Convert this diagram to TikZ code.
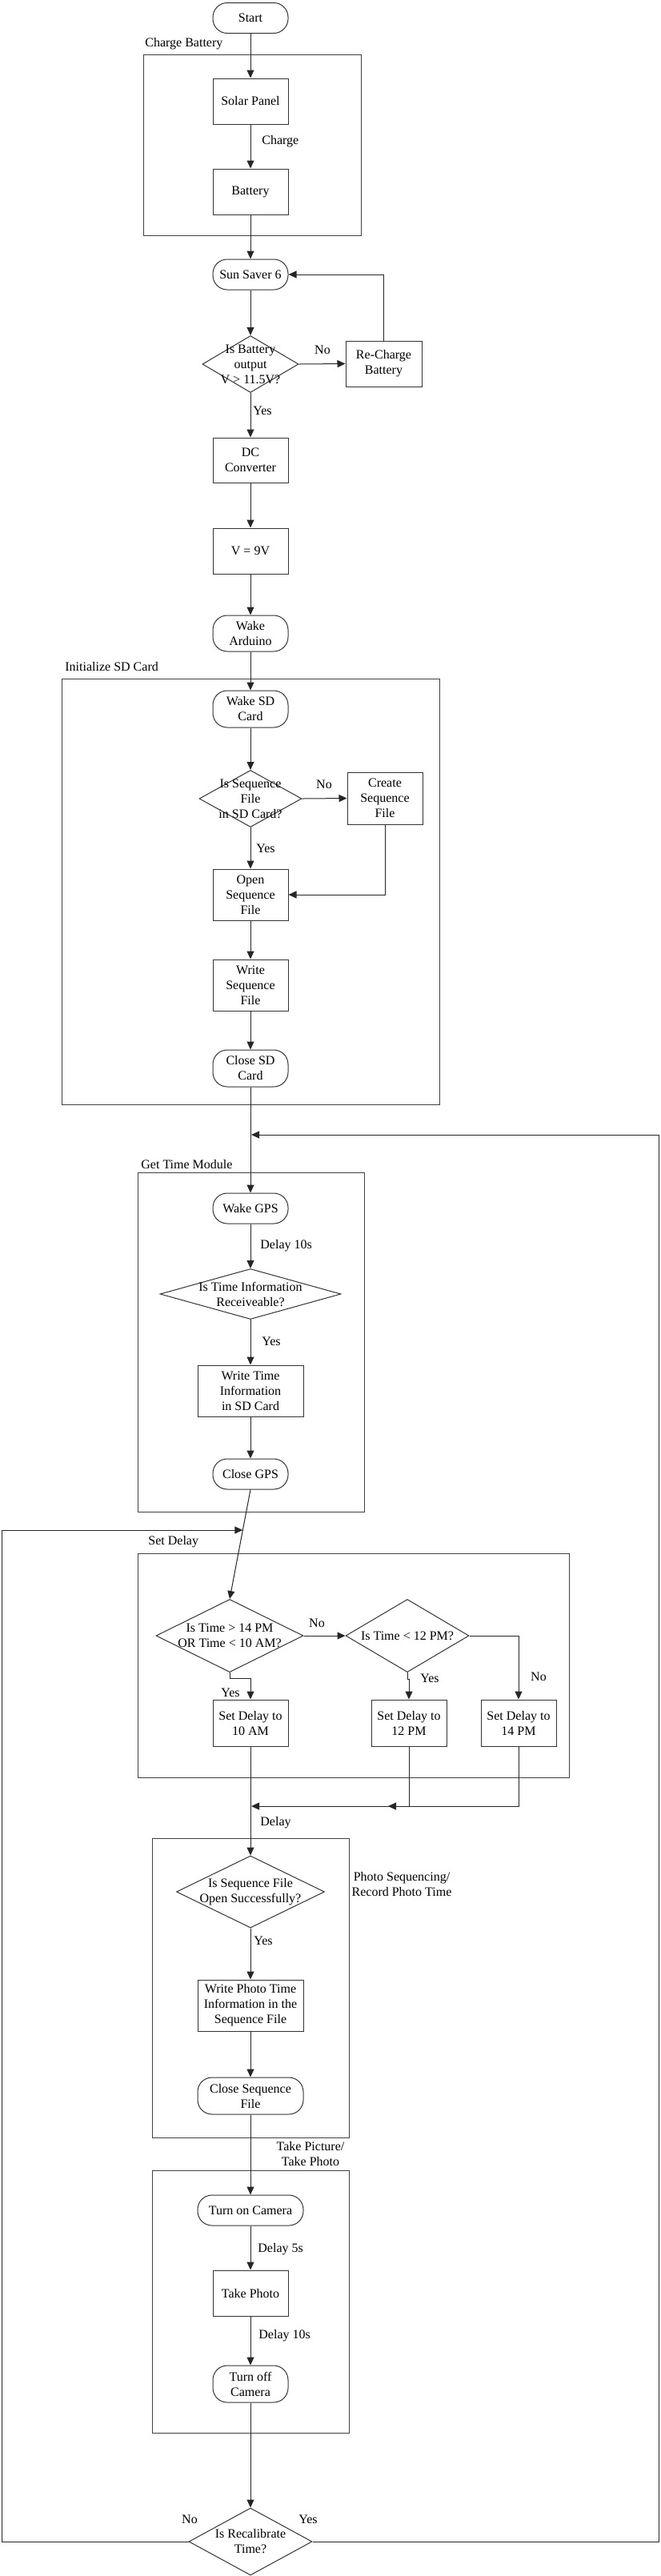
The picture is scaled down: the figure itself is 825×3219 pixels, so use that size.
\documentclass[tikz,border=0pt]{standalone}
\usepackage{fontspec}
\setmainfont{Liberation Serif}
\usetikzlibrary{shapes.geometric,arrows.meta}
\newcommand\figfont{\fontsize{8pt}{9.5pt}\selectfont}
\begin{document}
\begin{tikzpicture}[x=0.5pt,y=-0.5pt,
  every node/.style={font=\figfont},
  box/.style={draw=black!80, line width=0.5pt, align=center, inner sep=1pt, minimum width=47pt, minimum height=28.5pt},
  term/.style={box, rounded corners=9pt, minimum height=19pt},
  dia/.style={draw=black!80, line width=0.5pt, diamond, inner sep=0pt},
  dtxt/.style={align=center, inner sep=0pt},
  lbl/.style={inner sep=0pt, align=center},
  arr/.style={draw=black!85, line width=0.5pt, -{Triangle[length=5pt,width=4.5pt]}},
  ln/.style={draw=black!85, line width=0.5pt},
  frame/.style={draw=black!75, line width=0.5pt}]
\useasboundingbox (0,0) rectangle (825,3219);

% ---------- frames ----------
\draw[frame] (179,68) rectangle (451,294);
\node[lbl, anchor=west] (lcb) at (181,55) {Charge Battery};
\draw[frame] (77,848) rectangle (549,1380);
\node[lbl, anchor=west] (lsd) at (81,833) {Initialize SD Card};
\draw[frame] (172,1465) rectangle (455,1889);
\node[lbl, anchor=west] (lgt) at (176,1455) {Get Time Module};
\draw[frame] (172,1941) rectangle (711,2221);
\node[lbl, anchor=west] (lsdl) at (185,1927) {Set Delay};
\draw[frame] (190,2297) rectangle (436,2671);
\node[lbl] (lps) at (502,2354) {Photo Sequencing/\\Record Photo Time};
\draw[frame] (190,2712) rectangle (436,3040);
\node[lbl] (ltp) at (388,2691) {Take Picture/\\Take Photo};

% ---------- nodes ----------
\node[term] (start) at (313,22.5) {Start};
\node[box] (solar) at (313,126.5) {Solar Panel};
\node[box] (batt) at (313,239.5) {Battery};
\node[term] (ss) at (313,343) {Sun Saver 6};
\node[dia, minimum width=60pt, minimum height=35.5pt] (dbat) at (313,455) {};
\node[dtxt] (dbatT) at (dbat) {Is Battery\\output\\V > 11.5V?};
\node[box, minimum width=47.5pt] (rc) at (479.5,454.5) {Re-Charge\\Battery};
\node[box, minimum height=28pt] (dc) at (313,575) {DC\\Converter};
\node[box] (v9) at (313,688.5) {V = 9V};
\node[term, minimum height=22.5pt] (wa) at (313,791.5) {Wake\\Arduino};
\node[term, minimum height=23pt] (wsd) at (313,886) {Wake SD\\Card};
\node[dia, minimum width=64pt, minimum height=35.5pt] (dseq) at (313,998) {};
\node[dtxt] (dseqT) at (dseq) {Is Sequence\\File\\in SD Card?};
\node[box, minimum height=32.5pt] (cr) at (481,997.5) {Create\\Sequence\\File};
\node[box, minimum height=32pt] (op) at (313,1118) {Open\\Sequence\\File};
\node[box, minimum height=32pt] (ws) at (313,1231) {Write\\Sequence\\File};
\node[term, minimum height=23pt] (csd) at (313,1335) {Close SD\\Card};
\node[term] (wg) at (313,1510) {Wake GPS};
\node[dia, minimum width=113pt, minimum height=31.5pt] (dt) at (313,1617) {};
\node[dtxt] (dtT) at (dt) {Is Time Information\\Receiveable?};
\node[box, minimum width=66pt, minimum height=32pt] (wt) at (313,1738) {Write Time\\Information\\in SD Card};
\node[term] (cg) at (313,1842) {Close GPS};
\node[dia, minimum width=92pt, minimum height=45.5pt] (d1) at (287,2044) {};
\node[dtxt] (d1T) at (d1) {Is Time > 14 PM\\OR Time < 10 AM?};
\node[dia, minimum width=77pt, minimum height=45.5pt] (d2) at (509,2044) {};
\node[dtxt] (d2T) at (d2) {Is Time < 12 PM?};
\node[box, minimum height=29pt] (s10) at (313,2153) {Set Delay to\\10 AM};
\node[box, minimum height=29pt] (s12) at (511,2153) {Set Delay to\\12 PM};
\node[box, minimum height=29pt] (s14) at (648,2153) {Set Delay to\\14 PM};
\node[dia, minimum width=92.5pt, minimum height=45pt] (dop) at (313,2364) {};
\node[dtxt] (dopT) at (dop) {Is Sequence File\\Open Successfully?};
\node[box, minimum width=66pt, minimum height=32pt] (wp) at (313,2506) {Write Photo Time\\Information in the\\Sequence File};
\node[term, minimum width=66pt, minimum height=23pt] (csf) at (313,2619) {Close Sequence\\File};
\node[term, minimum width=66pt] (ton) at (313,2762) {Turn on Camera};
\node[box] (tp) at (313,2865.5) {Take Photo};
\node[term, minimum height=23pt] (toff) at (313,2979) {Turn off\\Camera};
\node[dia, minimum width=77pt, minimum height=42pt] (drc) at (313,3176) {};
\node[dtxt] (drcT) at (drc) {Is Recalibrate\\Time?};

% ---------- coordinates ----------
\coordinate (m14) at (485,2257);
\coordinate (m12) at (314,2257);
\coordinate (lpL) at (303.3,1912);
\coordinate (lpR) at (314,1418);

% ---------- connectors ----------
\draw[arr] (start) -- (solar);
\draw[arr] (solar) -- (batt);
\draw[arr] (batt) -- (ss);
\draw[arr] (ss) -- (dbat.north);
\draw[arr] (dbat.east) -- (rc.west);
\draw[arr] (rc.north) |- (ss.east);
\draw[arr] (dbat.south) -- (dc.north);
\draw[arr] (dc) -- (v9);
\draw[arr] (v9) -- (wa);
\draw[arr] (wa) -- (wsd);
\draw[arr] (wsd) -- (dseq.north);
\draw[arr] (dseq.east) -- (cr.west);
\draw[arr] (dseq.south) -- (op.north);
\draw[arr] (cr.south) |- (op.east);
\draw[arr] (op) -- (ws);
\draw[arr] (ws) -- (csd);
\draw[arr] (csd) -- (wg);
\draw[arr] (wg) -- (dt.north);
\draw[arr] (dt.south) -- (wt.north);
\draw[arr] (wt) -- (cg);
\draw[arr] (cg.south) -- (d1.north);
\draw[arr] (d1.east) -- (d2.west);
\draw[arr] (d1.south) -- ++(0,7) -| (s10.north);
\draw[arr] (d2.south) -- ++(0,8) -| (s12.north);
\draw[arr] (d2.east) -| (s14.north);
\draw[arr] (s14.south) |- (m14);
\draw[arr] (s12.south) |- (m12);
\draw[arr] (s10.south) -- (dop.north);
\draw[arr] (dop.south) -- (wp.north);
\draw[arr] (wp) -- (csf);
\draw[arr] (csf) -- (ton);
\draw[arr] (ton) -- (tp);
\draw[arr] (tp) -- (toff);
\draw[arr] (toff) -- (drc.north);
\draw[arr] (drc.west) -- (2,3176) -- (2,1912) -- (lpL);
\draw[arr] (drc.east) -- (823,3176) -- (823,1418) -- (lpR);

% ---------- connector labels ----------
\node[lbl, anchor=west] (tCharge) at (327,177) {Charge};
\node[lbl] (tNo1) at (403,437) {No};
\node[lbl, anchor=west] (tYes1) at (316,513) {Yes};
\node[lbl] (tNo2) at (405,980) {No};
\node[lbl, anchor=west] (tYes2) at (320,1060) {Yes};
\node[lbl, anchor=west] (tD10a) at (325,1557) {Delay 10s};
\node[lbl, anchor=west] (tYes3) at (327,1676) {Yes};
\node[lbl] (tNo3) at (396,2028) {No};
\node[lbl] (tYes4) at (288,2115) {Yes};
\node[lbl] (tYes5) at (537,2097) {Yes};
\node[lbl] (tNo4) at (673,2095) {No};
\node[lbl, anchor=west] (tDelay) at (325,2278) {Delay};
\node[lbl, anchor=west] (tYes6) at (317,2425) {Yes};
\node[lbl, anchor=west] (tD5) at (322,2811) {Delay 5s};
\node[lbl, anchor=west] (tD10b) at (323,2919) {Delay 10s};
\node[lbl] (tNo5) at (237,3148) {No};
\node[lbl] (tYes7) at (385,3148) {Yes};
\end{tikzpicture}
\end{document}
